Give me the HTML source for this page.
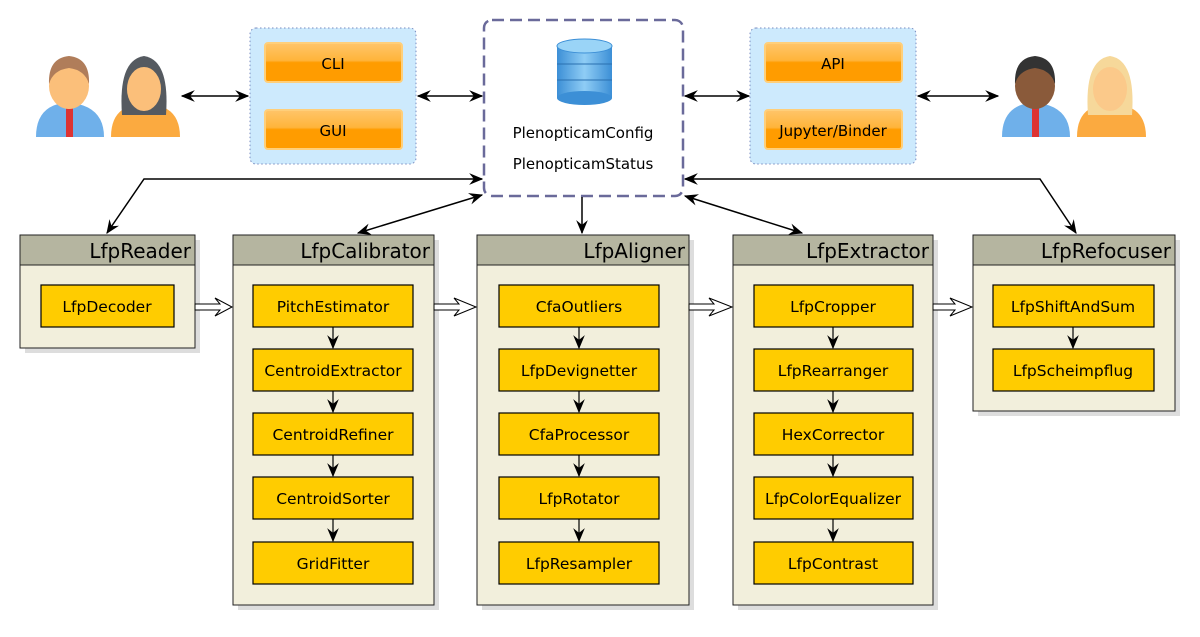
<!DOCTYPE html>
<html><head><meta charset="utf-8"><style>
body{margin:0;background:#fff}
svg text{font-family:"DejaVu Sans","Liberation Sans",sans-serif}
</style></head><body>
<svg width="1200" height="632" viewBox="0 0 1200 632" xmlns="http://www.w3.org/2000/svg">
<defs>
<marker id="a" viewBox="0 0 12 10" refX="11" refY="5" markerWidth="14" markerHeight="12" orient="auto-start-reverse" markerUnits="userSpaceOnUse">
<path d="M0,0 L12,5 L0,10 L4,5 Z" fill="#000"/></marker>
<linearGradient id="btn" x1="0" y1="0" x2="0" y2="1"><stop offset="0" stop-color="#ffc56a"/><stop offset="0.45" stop-color="#ffb43a"/><stop offset="0.5" stop-color="#ff9c00"/><stop offset="1" stop-color="#ff9c00"/></linearGradient>
<linearGradient id="db" x1="0" y1="0" x2="1" y2="0"><stop offset="0" stop-color="#3c8fd6"/><stop offset="0.5" stop-color="#8fcdf5"/><stop offset="1" stop-color="#3c8fd6"/></linearGradient>
</defs>

<g>
<path d="M36,137 Q36,110 58,104 L78,104 Q104,110 104,137 Z" fill="#6fb0ea"/>
<rect x="66" y="106" width="7" height="31" fill="#d33"/>
<ellipse cx="69" cy="86" rx="20" ry="23" fill="#fbbf7a"/>
<path d="M49,84 Q48,58 69,56 Q90,58 89,84 Q85,70 69,68 Q53,70 49,84 Z" fill="#b07d5a"/>
<path d="M111,137 Q111,112 130,106 L160,106 Q180,112 180,137 Z" fill="#fbaa40"/>
<path d="M122,115 Q118,60 144,56 Q170,60 166,115 Z" fill="#555a60"/>
<ellipse cx="144" cy="89" rx="17" ry="22" fill="#fbbf7a"/>
<path d="M127,82 Q130,66 144,66 Q158,66 161,82 L161,70 Q150,60 127,70 Z" fill="#555a60"/>
</g>
<g>
<path d="M1002,137 Q1002,110 1024,104 L1044,104 Q1070,110 1070,137 Z" fill="#6fb0ea"/>
<rect x="1032" y="106" width="7" height="31" fill="#d33"/>
<ellipse cx="1035" cy="86" rx="20" ry="23" fill="#8a5a3a"/>
<path d="M1015,84 Q1014,58 1035,56 Q1056,58 1055,84 Q1051,70 1035,68 Q1019,70 1015,84 Z" fill="#333"/>
<path d="M1077,137 Q1077,112 1096,106 L1126,106 Q1146,112 1146,137 Z" fill="#fbaa40"/>
<path d="M1088,115 Q1084,60 1110,56 Q1136,60 1132,115 Z" fill="#f6d89a"/>
<ellipse cx="1110" cy="89" rx="17" ry="22" fill="#fbc98a"/>
</g>

<rect x="250" y="28" width="166" height="136" rx="6" fill="#cdeafd" stroke="#7a8cc0" stroke-dasharray="1.5,2.5"/>
<rect x="750" y="28" width="166" height="136" rx="6" fill="#cdeafd" stroke="#7a8cc0" stroke-dasharray="1.5,2.5"/>
<g font-size="15" text-anchor="middle">
<rect x="265" y="43" width="137" height="39" rx="3" fill="url(#btn)" stroke="#ffcf7a" stroke-width="2"/><text x="333" y="69">CLI</text>
<rect x="265" y="110" width="137" height="39" rx="3" fill="url(#btn)" stroke="#ffcf7a" stroke-width="2"/><text x="333" y="136">GUI</text>
<rect x="765" y="43" width="137" height="39" rx="3" fill="url(#btn)" stroke="#ffcf7a" stroke-width="2"/><text x="833" y="69">API</text>
<rect x="765" y="110" width="137" height="39" rx="3" fill="url(#btn)" stroke="#ffcf7a" stroke-width="2"/><text x="833" y="136">Jupyter/Binder</text>
</g>

<rect x="484" y="20" width="199" height="176" rx="8" fill="#fff" stroke="#6a6a9a" stroke-width="2.5" stroke-dasharray="12,6"/>
<g>
<rect x="557" y="46" width="55" height="52" fill="url(#db)"/>
<ellipse cx="584.5" cy="98" rx="27.5" ry="7" fill="#3c8fd6"/>
<line x1="557" y1="64" x2="612" y2="64" stroke="#2a70b0"/>
<line x1="557" y1="80" x2="612" y2="80" stroke="#2a70b0"/>
<ellipse cx="584.5" cy="46" rx="27.5" ry="7" fill="#9ad4f7" stroke="#3c8fd6"/>
</g>
<g font-size="15" text-anchor="middle">
<text x="583" y="138">PlenopticamConfig</text>
<text x="583" y="169">PlenopticamStatus</text>
</g>

<g stroke="#000" stroke-width="1.5" fill="none">
<line x1="182" y1="96" x2="248" y2="96" marker-start="url(#a)" marker-end="url(#a)"/>
<line x1="418" y1="96" x2="482" y2="96" marker-start="url(#a)" marker-end="url(#a)"/>
<line x1="685" y1="96" x2="749" y2="96" marker-start="url(#a)" marker-end="url(#a)"/>
<line x1="918" y1="96" x2="998" y2="96" marker-start="url(#a)" marker-end="url(#a)"/>
<polyline points="482,179 144,179 107,233" marker-start="url(#a)" marker-end="url(#a)"/>
<line x1="482" y1="195" x2="358" y2="233" marker-start="url(#a)" marker-end="url(#a)"/>
<line x1="582" y1="197" x2="582" y2="233" marker-end="url(#a)"/>
<line x1="685" y1="196" x2="802" y2="233" marker-start="url(#a)" marker-end="url(#a)"/>
<polyline points="685,179 1040,179 1076,233" marker-start="url(#a)" marker-end="url(#a)"/>
</g>

<g>
<rect x="25" y="240" width="175" height="113" fill="#ddd"/>
<rect x="20" y="235" width="175" height="113" fill="#f2efdc" stroke="#222"/>
<rect x="20.5" y="235.5" width="174" height="29" fill="#b5b5a0"/>
<line x1="20" y1="265" x2="195" y2="265" stroke="#222"/>
<rect x="238" y="240" width="201" height="370" fill="#ddd"/>
<rect x="233" y="235" width="201" height="370" fill="#f2efdc" stroke="#222"/>
<rect x="233.5" y="235.5" width="200" height="29" fill="#b5b5a0"/>
<line x1="233" y1="265" x2="434" y2="265" stroke="#222"/>
<rect x="482" y="240" width="212" height="370" fill="#ddd"/>
<rect x="477" y="235" width="212" height="370" fill="#f2efdc" stroke="#222"/>
<rect x="477.5" y="235.5" width="211" height="29" fill="#b5b5a0"/>
<line x1="477" y1="265" x2="689" y2="265" stroke="#222"/>
<rect x="738" y="240" width="200" height="370" fill="#ddd"/>
<rect x="733" y="235" width="200" height="370" fill="#f2efdc" stroke="#222"/>
<rect x="733.5" y="235.5" width="199" height="29" fill="#b5b5a0"/>
<line x1="733" y1="265" x2="933" y2="265" stroke="#222"/>
<rect x="978" y="240" width="202" height="176" fill="#ddd"/>
<rect x="973" y="235" width="202" height="176" fill="#f2efdc" stroke="#222"/>
<rect x="973.5" y="235.5" width="201" height="29" fill="#b5b5a0"/>
<line x1="973" y1="265" x2="1175" y2="265" stroke="#222"/>
</g>
<g font-size="20" text-anchor="end">
<text x="191" y="258">LfpReader</text>
<text x="430" y="258">LfpCalibrator</text>
<text x="685" y="258">LfpAligner</text>
<text x="929" y="258">LfpExtractor</text>
<text x="1171" y="258">LfpRefocuser</text>
</g>

<g fill="#fff" stroke="#000" stroke-width="1">
<path d="M195,304 L220,304 L215,298 L232,307 L215,316 L220,310 L195,310 Z"/>
<path d="M434,304 L459,304 L454,298 L476,307 L454,316 L459,310 L434,310 Z"/>
<path d="M689,304 L714,304 L709,298 L732,307 L709,316 L714,310 L689,310 Z"/>
<path d="M933,304 L955,304 L950,298 L972,307 L950,316 L955,310 L933,310 Z"/>
</g>

<g fill="#ffcc00" stroke="#000" stroke-width="1.2">
<rect x="41" y="285" width="133" height="42"/>
<rect x="253" y="285" width="160" height="42"/><rect x="253" y="349" width="160" height="42"/><rect x="253" y="413" width="160" height="42"/><rect x="253" y="477" width="160" height="42"/><rect x="253" y="542" width="160" height="42"/>
<rect x="499" y="285" width="160" height="42"/><rect x="499" y="349" width="160" height="42"/><rect x="499" y="413" width="160" height="42"/><rect x="499" y="477" width="160" height="42"/><rect x="499" y="542" width="160" height="42"/>
<rect x="754" y="285" width="159" height="42"/><rect x="754" y="349" width="159" height="42"/><rect x="754" y="413" width="159" height="42"/><rect x="754" y="477" width="159" height="42"/><rect x="754" y="542" width="159" height="42"/>
<rect x="993" y="285" width="161" height="42"/><rect x="993" y="349" width="161" height="42"/>
</g>
<g stroke="#000" stroke-width="1.2">
<line x1="333" y1="327" x2="333" y2="348" marker-end="url(#a)"/><line x1="333" y1="391" x2="333" y2="412" marker-end="url(#a)"/><line x1="333" y1="455" x2="333" y2="476" marker-end="url(#a)"/><line x1="333" y1="519" x2="333" y2="541" marker-end="url(#a)"/>
<line x1="579" y1="327" x2="579" y2="348" marker-end="url(#a)"/><line x1="579" y1="391" x2="579" y2="412" marker-end="url(#a)"/><line x1="579" y1="455" x2="579" y2="476" marker-end="url(#a)"/><line x1="579" y1="519" x2="579" y2="541" marker-end="url(#a)"/>
<line x1="833" y1="327" x2="833" y2="348" marker-end="url(#a)"/><line x1="833" y1="391" x2="833" y2="412" marker-end="url(#a)"/><line x1="833" y1="455" x2="833" y2="476" marker-end="url(#a)"/><line x1="833" y1="519" x2="833" y2="541" marker-end="url(#a)"/>
<line x1="1073" y1="327" x2="1073" y2="348" marker-end="url(#a)"/>
</g>
<g font-size="15.5" text-anchor="middle">
<text x="107" y="312">LfpDecoder</text>
<text x="333" y="312">PitchEstimator</text><text x="333" y="376">CentroidExtractor</text><text x="333" y="440">CentroidRefiner</text><text x="333" y="504">CentroidSorter</text><text x="333" y="569">GridFitter</text>
<text x="579" y="312">CfaOutliers</text><text x="579" y="376">LfpDevignetter</text><text x="579" y="440">CfaProcessor</text><text x="579" y="504">LfpRotator</text><text x="579" y="569">LfpResampler</text>
<text x="833" y="312">LfpCropper</text><text x="833" y="376">LfpRearranger</text><text x="833" y="440">HexCorrector</text><text x="833" y="504">LfpColorEqualizer</text><text x="833" y="569">LfpContrast</text>
<text x="1073" y="312">LfpShiftAndSum</text><text x="1073" y="376">LfpScheimpflug</text>
</g>
</svg>
</body></html>
